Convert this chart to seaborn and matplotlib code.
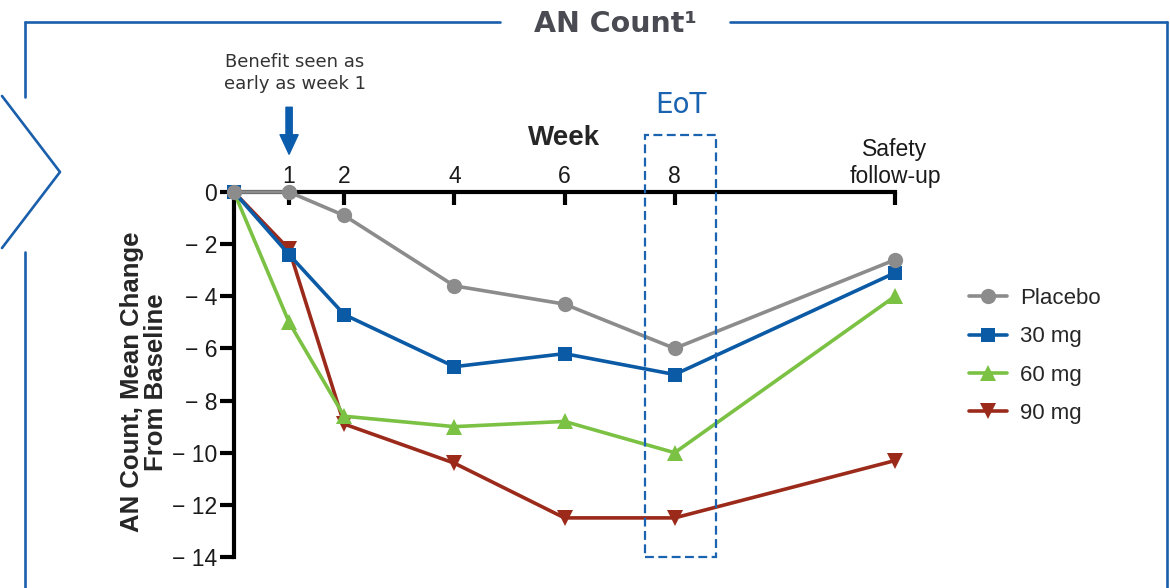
import numpy as np
import pandas as pd
import matplotlib
matplotlib.use('Agg')
import matplotlib.pyplot as plt
from matplotlib.lines import Line2D
from matplotlib.patches import Rectangle
import seaborn as sns

# weeks (12 = safety follow-up)
weeks = [0, 1, 2, 4, 6, 8, 12]
placebo = [0, 0, -0.9, -3.6, -4.3, -6.0, -2.6]
mg30 = [0, -2.4, -4.7, -6.7, -6.2, -7.0, -3.1]
mg60 = [0, -5.0, -8.6, -9.0, -8.8, -10.0, -4.0]
mg90 = [0, -2.2, -8.9, -10.4, -12.5, -12.5, -10.3]

groups = ['Placebo', '30 mg', '60 mg', '90 mg']
series = [placebo, mg30, mg60, mg90]
colors = ['#8c8c8c', '#0b5aa6', '#7bc143', '#9b2a1b']
markers = ['o', 's', '^', 'v']

xticks = [1, 2, 4, 6, 8, 12]
xticklabels = ['1', '2', '4', '6', '8', 'Safety\nfollow-up']
yticks = [0, -2, -4, -6, -8, -10, -12, -14]
yticklabels = ['0'] + ['\u2212 %d' % abs(v) for v in yticks[1:]]

df = pd.DataFrame({
    'week': weeks * len(groups),
    'change': sum(series, []),
    'group': np.repeat(groups, len(weeks)),
})

sns.set_style('white')
plt.rcParams['font.family'] = ['Liberation Sans', 'DejaVu Sans']

W, H = 1170, 588
fig = plt.figure(figsize=(W / 100, H / 100), dpi=100)


def px(x, y):
    return x / W, 1 - y / H


ax = fig.add_axes([234 / W, 1 - 557 / H, 661 / W, 365 / H])

# draw 90 mg first so placebo ends up on top
handles = {}
for i in reversed(range(len(groups))):
    sub = df[df['group'] == groups[i]]
    msize = 11 if markers[i] != 's' else 10
    # triangles at baseline are hidden behind the square/circle in the original
    every = slice(1, None) if markers[i] in ('^', 'v') else None
    sns.lineplot(data=sub, x='week', y='change', ax=ax, color=colors[i],
                 marker=markers[i], markersize=msize,
                 markeredgecolor=colors[i], markeredgewidth=0, markevery=every,
                 linewidth=2.6, legend=False, clip_on=False,
                 zorder=3 + (len(groups) - i))
    handles[groups[i]] = Line2D([], [], color=colors[i], marker=markers[i],
                                markersize=msize, markeredgewidth=0, linewidth=2.6)

ax.set_xlim(0, 12)
ax.set_ylim(-14, 0)
ax.set_xticks(xticks)
ax.set_xticklabels(xticklabels)
ax.set_yticks(yticks)
ax.set_yticklabels(yticklabels)

ax.xaxis.tick_top()
ax.xaxis.set_label_position('top')
for s in ['right', 'bottom']:
    ax.spines[s].set_visible(False)
for s in ['top', 'left']:
    ax.spines[s].set_linewidth(3)
    ax.spines[s].set_color('black')
ax.tick_params(axis='x', direction='in', length=9, width=3, pad=3,
               labelsize=16.5, colors='black', top=True, bottom=False)
ax.tick_params(axis='y', direction='out', length=10, width=3, pad=2,
               labelsize=16.5, colors='black', left=True)
for t in ax.get_xticklabels() + ax.get_yticklabels():
    t.set_color('#1a1a1a')

ax.set_xlabel('Week', fontsize=20, fontweight='bold')
ax.xaxis.set_label_coords(0.5, 1.128)
ax.set_ylabel('AN Count, Mean Change\nFrom Baseline', fontsize=18.5,
              fontweight='bold', linespacing=1.0)
ax.yaxis.set_label_coords(-0.10, 0.48)

# EoT box
ax.add_patch(Rectangle((7.46, -14), 1.29, 16.2, fill=False, edgecolor='#1a63b0',
                       linewidth=1.6, linestyle=(0, (4, 2)), clip_on=False, zorder=10))

# arrow at week 1
ax.annotate('', xy=(1, 1.45), xytext=(1, 3.25), annotation_clip=False,
            arrowprops=dict(width=4.5, headwidth=13, headlength=14,
                            color='#0b5cad', shrink=0))

# legend
ax.legend([handles[g] for g in groups], groups, frameon=False,
          loc='upper left', bbox_to_anchor=px(949, 268),
          bbox_transform=fig.transFigure, fontsize=16, handlelength=1.7,
          handletextpad=0.6, labelspacing=0.78)

# texts
fig.text(*px(615, 24), 'AN Count\u00b9', ha='center', va='center', fontsize=20.5,
         fontweight='bold', color='#4a4a52', family='DejaVu Sans')
fig.text(*px(295, 73), 'Benefit seen as\nearly as week 1', ha='center', va='center',
         fontsize=13, color='#333333', family='DejaVu Sans', linespacing=1.3)
fig.text(*px(681, 105), 'EoT', ha='center', va='center', fontsize=20,
         color='#1a63b0', family='DejaVu Sans')

# outer frame
frame_col = '#1a5fab'
segs = [
    [(25, 22), (500, 22)],
    [(730, 22), (1167, 22)],
    [(1167, 22), (1167, 590)],
    [(25, 22), (25, 97)],
    [(25, 252), (25, 590)],
    [(2, 96), (60, 172), (2, 248)],
]
for seg in segs:
    xs = [px(*p)[0] for p in seg]
    ys = [px(*p)[1] for p in seg]
    fig.add_artist(Line2D(xs, ys, color=frame_col, linewidth=1.9,
                          transform=fig.transFigure))

fig.savefig('out.png', dpi=100)
